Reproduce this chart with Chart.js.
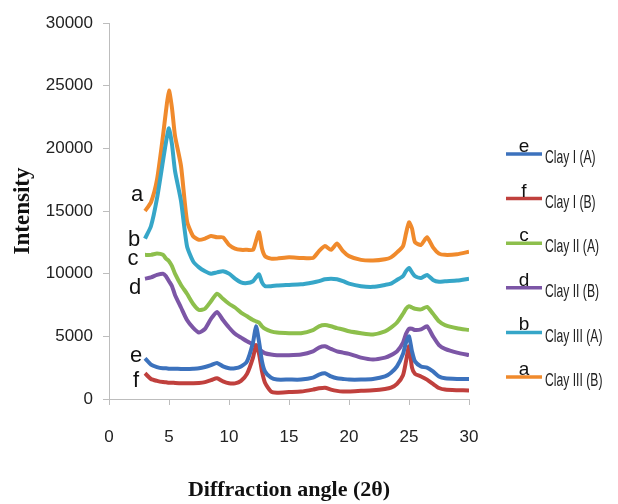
<!DOCTYPE html>
<html>
<head>
<meta charset="utf-8">
<script src="https://cdn.jsdelivr.net/npm/chart.js@4.4.0/dist/chart.umd.min.js"></script>
<style>
  html, body { margin: 0; padding: 0; background: #fff; }
  #wrap { width: 618px; height: 504px; }
</style>
</head>
<body>
<div id="wrap"><canvas id="xrdChart" width="618" height="504"></canvas></div>
<script>
// diffraction angle grid (2θ)
const angles = [3, 3.5, 4, 4.5, 4.75, 5, 5.25, 5.5, 6, 6.5, 7, 7.5, 8, 8.5, 9, 9.5, 10, 10.5, 11, 11.5,
    12, 12.25, 12.5, 12.75, 13, 13.5, 14, 15, 16, 17, 17.5, 18, 18.5, 19, 19.5, 20, 21, 22, 23, 23.5,
    24, 24.5, 24.75, 25, 25.25, 25.5, 26, 26.5, 27, 27.5, 28, 29, 30];

const clay1A = [3250, 2750, 2550, 2450, 2450, 2420, 2420, 2420, 2400, 2400, 2420, 2450, 2550, 2700, 2880, 2600, 2450, 2450, 2600, 3000,
    4500, 5800, 4600, 3000, 2200, 1700, 1550, 1550, 1550, 1700, 1950, 2050, 1800, 1650, 1600, 1550, 1550, 1600, 1800, 2100,
    2600, 3600, 4500, 5000, 3800, 3000, 2600, 2500, 2200, 1800, 1650, 1600, 1600];
const clay1B = [2050, 1600, 1450, 1350, 1330, 1300, 1300, 1280, 1250, 1250, 1260, 1280, 1350, 1500, 1650, 1400, 1250, 1250, 1450, 2000,
    3300, 4300, 3600, 2200, 1300, 600, 500, 550, 600, 750, 850, 900, 750, 650, 600, 600, 650, 700, 800, 900,
    1200, 1900, 3000, 4200, 2500, 2000, 1800, 1550, 1200, 880, 750, 700, 680];
const clay2A = [11500, 11500, 11600, 11500, 11200, 11000, 10600, 10000, 9100, 8400, 7600, 7100, 7200, 7800, 8400, 8000, 7600, 7300, 6900, 6600,
    6300, 6200, 6100, 5800, 5600, 5400, 5300, 5250, 5250, 5500, 5800, 5900, 5800, 5650, 5550, 5400, 5250, 5150, 5400, 5700,
    6100, 6800, 7200, 7400, 7300, 7200, 7150, 7350, 6800, 6200, 5900, 5650, 5500];
const clay2B = [9600, 9700, 9900, 10000, 9800, 9400, 9000, 8300, 7300, 6300, 5700, 5300, 5600, 6400, 6950, 6300, 5700, 5200, 4900, 4600,
    4350, 4200, 4000, 3800, 3650, 3550, 3500, 3500, 3550, 3800, 4100, 4200, 4000, 3800, 3700, 3600, 3300, 3150, 3300, 3500,
    3800, 4500, 5200, 5600, 5600, 5500, 5550, 5800, 5000, 4300, 4000, 3700, 3500];
const clay3A = [12800, 13800, 16000, 19000, 20500, 21600, 20300, 18200, 15800, 12200, 11000, 10500, 10200, 10000, 10100, 10200, 10000, 9600, 9300, 9250,
    9400, 9700, 9950, 9300, 9000, 9000, 9050, 9100, 9150, 9300, 9400, 9550, 9600, 9550, 9400, 9200, 9000, 8950, 9100, 9200,
    9500, 9800, 10200, 10450, 10100, 9800, 9650, 9900, 9500, 9350, 9400, 9450, 9600];
const clay3B = [15000, 15700, 17500, 21000, 23000, 24600, 23200, 21000, 18600, 14200, 13000, 12700, 12800, 13000, 12900, 12900, 12300, 12000, 11900, 11900,
    11900, 12600, 13300, 12000, 11400, 11200, 11200, 11300, 11250, 11250, 11800, 12200, 11900, 12400, 11800, 11400, 11100, 11050, 11150, 11300,
    11700, 12200, 13200, 14100, 13600, 12500, 12300, 12900, 12100, 11600, 11500, 11550, 11750];

const seriesNames = ['Clay I (A)', 'Clay I (B)', 'Clay II (A)', 'Clay II (B)', 'Clay III (A)', 'Clay III (B)'];
const seriesLetters = ['e', 'f', 'c', 'd', 'b', 'a'];
const seriesValues = [clay1A, clay1B, clay2A, clay2B, clay3A, clay3B];
const xTicks = [0, 5, 10, 15, 20, 25, 30];
const yTicks = [0, 5000, 10000, 15000, 20000, 25000, 30000];

const colors = ['#3c72bd', '#c0403d', '#8dbf4c', '#7c56a6', '#36a6c8', '#f08a2c'];

// letter offsets next to the start of each curve (dx, baseline dy)
const letterOffsets = {
    a: [-8, -10], b: [-11, 7], c: [-12, 10], d: [-10, 15], e: [-9, 4], f: [-9, 14]
};

const curveLetters = {
    id: 'curveLetters',
    afterDatasetsDraw(chart) {
        const ctx = chart.ctx;
        ctx.save();
        ctx.font = '22px "Liberation Sans", Arial, sans-serif';
        ctx.fillStyle = '#111';
        ctx.textAlign = 'center';
        ctx.textBaseline = 'alphabetic';
        chart.data.datasets.forEach((ds, i) => {
            const pt = chart.getDatasetMeta(i).data[0];
            const off = letterOffsets[seriesLetters[i]];
            ctx.fillText(seriesLetters[i], pt.x + off[0], pt.y + off[1]);
        });
        ctx.restore();
    }
};

const sideLegend = {
    id: 'sideLegend',
    afterDraw(chart) {
        const ctx = chart.ctx;
        const x0 = chart.chartArea.right + 37;
        ctx.save();
        seriesNames.forEach((name, i) => {
            const y = 154 + i * 44.6;
            ctx.strokeStyle = colors[i];
            ctx.lineWidth = 3.5;
            ctx.beginPath();
            ctx.moveTo(x0, y);
            ctx.lineTo(x0 + 36, y);
            ctx.stroke();
            ctx.fillStyle = '#111';
            ctx.font = '19px "Liberation Sans", Arial, sans-serif';
            ctx.textAlign = 'center';
            ctx.textBaseline = 'alphabetic';
            ctx.fillText(seriesLetters[i], x0 + 18, y - 2);
            ctx.fillStyle = '#222';
            ctx.font = '19px "Liberation Sans", Arial, sans-serif';
            ctx.textAlign = 'left';
            ctx.textBaseline = 'middle';
            const w = ctx.measureText(name).width * 0.64;
            ctx.fillText(name, x0 + 39, y + 4, w);
        });
        ctx.restore();
    }
};

const ctx = document.getElementById('xrdChart');
const tickFont = { family: '"Liberation Sans", Arial, sans-serif', size: 17 };

new Chart(ctx, {
    type: 'line',
    data: {
        datasets: seriesValues.map((vals, i) => ({
            label: seriesNames[i],
            data: angles.map((a, j) => ({ x: a, y: vals[j] })),
            borderColor: colors[i],
            backgroundColor: colors[i],
            borderWidth: 4,
            pointRadius: 0,
            tension: 0.2,
            fill: false
        }))
    },
    options: {
        responsive: false,
        animation: false,
        layout: { padding: { left: 9, right: 149, top: 23, bottom: 0 } },
        plugins: {
            legend: { display: false },
            tooltip: { enabled: false }
        },
        scales: {
            x: {
                type: 'linear',
                min: 0,
                max: 30,
                afterBuildTicks(scale) { scale.ticks = xTicks.map(v => ({ value: v })); },
                afterFit(scale) { scale.height = 105; },
                grid: { drawOnChartArea: false, tickLength: 6, color: '#bdbdbd' },
                border: { color: '#bdbdbd' },
                ticks: {
                    padding: 22,
                    color: '#222',
                    font: tickFont,
                    callback: v => String(v)
                },
                title: {
                    display: true,
                    text: 'Diffraction angle (2θ)',
                    color: '#111',
                    padding: { top: 0, bottom: 0 },
                    font: { family: '"Liberation Serif", "Times New Roman", serif', size: 22, weight: 'bold' }
                }
            },
            y: {
                min: 0,
                max: 30000,
                afterBuildTicks(scale) { scale.ticks = yTicks.map(v => ({ value: v })); },
                afterFit(scale) { scale.width = 100; },
                grid: { drawOnChartArea: false, tickLength: 6, color: '#bdbdbd' },
                border: { color: '#bdbdbd' },
                ticks: {
                    padding: 10,
                    color: '#222',
                    font: tickFont,
                    callback: v => String(v)
                },
                title: {
                    display: true,
                    text: 'Intensity',
                    color: '#111',
                    padding: { top: 0, bottom: 0 },
                    font: { family: '"Liberation Serif", "Times New Roman", serif', size: 23, weight: 'bold' }
                }
            }
        }
    },
    plugins: [curveLetters, sideLegend]
});
</script>
</body>
</html>
